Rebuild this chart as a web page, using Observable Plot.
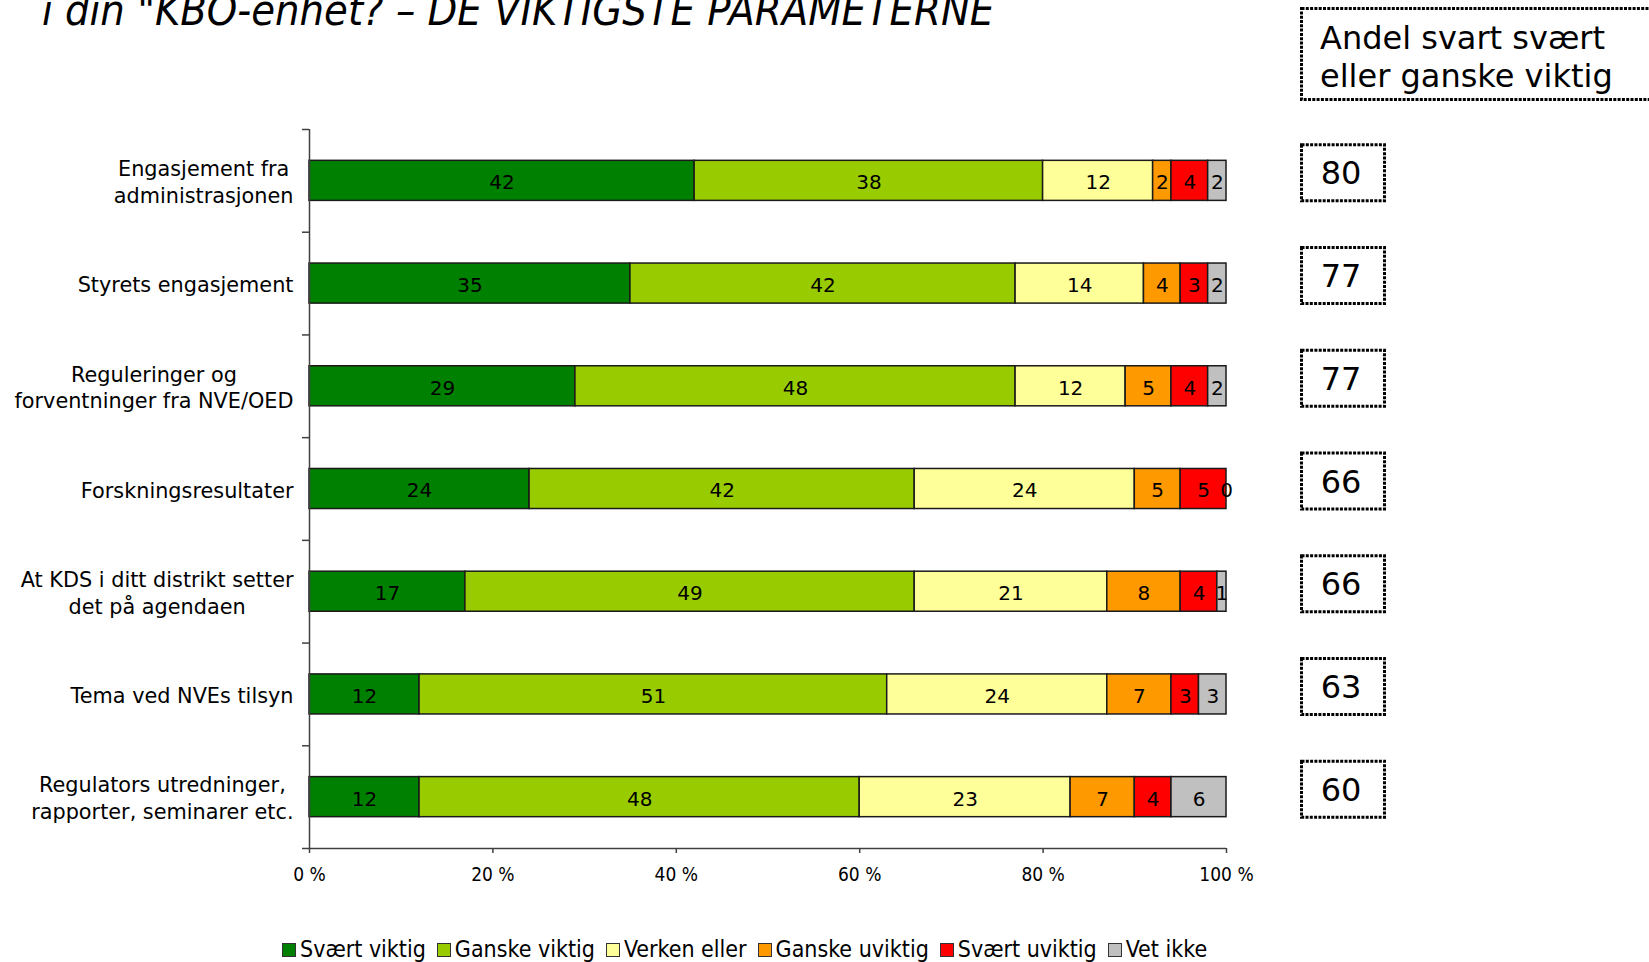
<!DOCTYPE html>
<html>
<head>
<meta charset="utf-8">
<script src="https://cdn.jsdelivr.net/npm/d3@7"></script>
<script src="https://cdn.jsdelivr.net/npm/@observablehq/plot@0.6"></script>
<style>
  html, body { margin: 0; padding: 0; background: #fff; }
  #page { position: relative; width: 1649px; height: 962px; overflow: hidden; background: #fff; font-family: "DejaVu Sans", Verdana, sans-serif; }
  #title { position: absolute; left: 42px; top: -11px; white-space: nowrap; font-family: "DejaVu Sans Condensed", "DejaVu Sans", sans-serif; font-stretch: condensed; font-style: oblique; font-size: 43px; line-height: 1; color: #000; }
  #chart { position: absolute; left: 0; top: 0; }
  #overlay { position: absolute; left: 0; top: 0; pointer-events: none; }
  #legend { position: absolute; left: 282px; top: 938px; height: 23px; display: flex; align-items: center; white-space: nowrap; font-family: "DejaVu Sans Condensed", "DejaVu Sans", sans-serif; font-stretch: condensed; font-size: 23px; line-height: 23px; color: #000; }
  #legend .item { display: flex; align-items: center; margin-right: 11px; }
  #legend .sw { width: 12px; height: 12px; border: 1px solid #333; margin-right: 4px; }
  g[aria-label="x-axis tick label"] { font-stretch: condensed; }
</style>
</head>
<body>
<div id="page">
  <div id="title">i din "KBO-enhet? – DE VIKTIGSTE PARAMETERNE</div>
  <div id="chart"></div>
  <svg id="overlay" width="1649" height="962"></svg>
  <div id="legend"></div>
</div>
<script>
// ---- data ----
const categories = [
  "Engasjement fra\nadministrasjonen",
  "Styrets engasjement",
  "Reguleringer og\nforventninger fra NVE/OED",
  "Forskningsresultater",
  "At KDS i ditt distrikt setter\ndet på agendaen",
  "Tema ved NVEs tilsyn",
  "Regulators utredninger,\nrapporter, seminarer etc."
];
const series = ["Svært viktig", "Ganske viktig", "Verken eller", "Ganske uviktig", "Svært uviktig", "Vet ikke"];
const colors = ["#008000", "#99CC00", "#FFFF99", "#FF9900", "#FF0000", "#C0C0C0"];
const svaertViktig  = [42, 35, 29, 24, 17, 12, 12];
const ganskeViktig  = [38, 42, 48, 42, 49, 51, 48];
const verkenEller   = [12, 14, 12, 24, 21, 24, 23];
const ganskeUviktig = [2, 4, 5, 5, 8, 7, 7];
const svaertUviktig = [4, 3, 4, 5, 4, 3, 4];
const vetIkke       = [2, 2, 2, 0, 1, 3, 6];
const xTicks = [0, 20, 40, 60, 80, 100];
const headerLines = ["Andel svart svært", "eller ganske viktig"];

const seriesValues = [svaertViktig, ganskeViktig, verkenEller, ganskeUviktig, svaertUviktig, vetIkke];
const table = [];
categories.forEach((cat, i) => {
  series.forEach((s, j) => table.push({i, cat, series: s, value: seriesValues[j][i]}));
});
const totals = categories.map((c, i) => svaertViktig[i] + ganskeViktig[i]);

// ---- chart ----
const W = 1260, H = 898;
const half = 0.195;
const chart = Plot.plot({
  width: W, height: H,
  marginLeft: 309, marginRight: W - 1226, marginTop: 129, marginBottom: H - 848,
  x: {domain: [0, 100], label: null},
  y: {domain: [-0.5, categories.length - 0.5], reverse: true, label: null},
  color: {domain: series, range: colors},
  style: {fontFamily: "DejaVu Sans, Verdana, sans-serif", fontSize: "20px", color: "#000", background: "transparent", overflow: "visible"},
  marks: [
    Plot.rectX(table, {x: "value", y1: d => d.i - half, y2: d => d.i + half, fill: "series", stroke: "#1a1a1a", strokeWidth: 1.5}),
    Plot.text(table, Plot.stackX({x: "value", y: "i", z: "series", text: d => String(d.value), fontSize: 20, dy: 2, fill: "#000"})),
    Plot.ruleX([0], {stroke: "#404040", strokeWidth: 1.5}),
    Plot.ruleY([categories.length - 0.5], {stroke: "#404040", strokeWidth: 1.5}),
    Plot.axisY({ticks: d3.range(-0.5, categories.length), tickSize: 7, tickFormat: () => "", label: null, stroke: "#404040", strokeWidth: 1.5}),
    Plot.text(categories, {frameAnchor: "left", y: (d, i) => i, text: d => d, textAnchor: "end", dx: -16, lineHeight: 1.28, fontSize: 20.8, fill: "#000"}),
    Plot.axisX({ticks: xTicks, tickFormat: d => d + " %", label: null, tickSize: 5, tickPadding: 14, fontSize: 19, fontFamily: "DejaVu Sans Condensed, DejaVu Sans, sans-serif", stroke: "#404040", strokeWidth: 1.5, fill: "#000"})
  ]
});
document.getElementById("chart").appendChild(chart);

// center multi-line category labels
const catSet = new Set(categories.map(c => c.replace("\n", "")));
chart.querySelectorAll("text").forEach(t => {
  if (!catSet.has(t.textContent)) return;
  const spans = Array.from(t.querySelectorAll("tspan"));
  if (spans.length > 1) {
    const w = d3.max(spans, s => s.getComputedTextLength());
    t.setAttribute("text-anchor", "middle");
    t.style.textAnchor = "middle";
    spans.forEach(s => { s.setAttribute("x", -w / 2); s.setAttribute("text-anchor", "middle"); });
  }
});

// ---- side boxes ----
const yScale = chart.scale("y");
const ov = d3.select("#overlay");
const dash = "3 1.3";
ov.append("rect").attr("x", 1301.5).attr("y", 8.5).attr("width", 400).attr("height", 91)
  .attr("fill", "none").attr("stroke", "#000").attr("stroke-width", 3).attr("stroke-dasharray", dash);
headerLines.forEach((l, k) => {
  ov.append("text").attr("x", 1320).attr("y", 49 + k * 38).attr("font-size", 32)
    .attr("font-family", "DejaVu Sans, Verdana, sans-serif").attr("fill", "#000").text(l);
});
totals.forEach((v, i) => {
  const cy = yScale.apply(i) - 7.5;
  ov.append("rect").attr("x", 1301.5).attr("y", cy - 28).attr("width", 83).attr("height", 56)
    .attr("fill", "none").attr("stroke", "#000").attr("stroke-width", 3).attr("stroke-dasharray", dash);
  ov.append("text").attr("x", 1341).attr("y", cy).attr("dy", "0.36em").attr("text-anchor", "middle")
    .attr("font-size", 32).attr("font-family", "DejaVu Sans, Verdana, sans-serif").attr("fill", "#000").text(v);
});

// ---- legend ----
const lg = d3.select("#legend");
series.forEach((s, j) => {
  const it = lg.append("div").attr("class", "item");
  it.append("div").attr("class", "sw").style("background", colors[j]);
  it.append("span").text(s);
});
</script>
</body>
</html>
